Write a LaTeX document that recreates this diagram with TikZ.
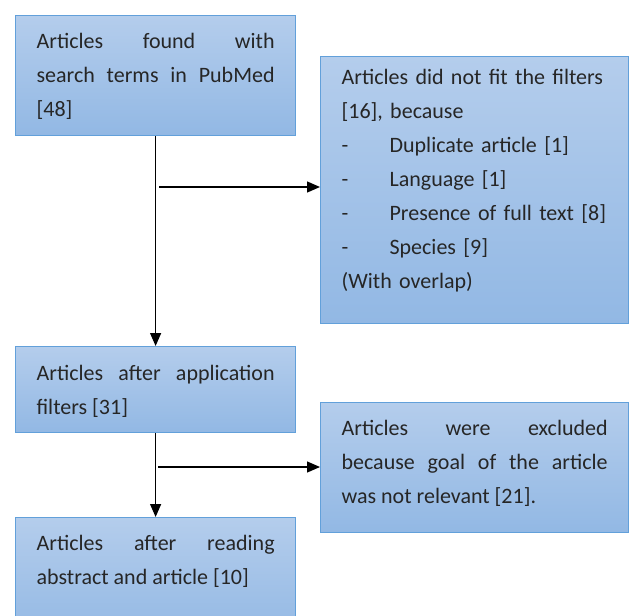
\documentclass[tikz,border=0pt]{standalone}
\usepackage{fontspec}
\setmainfont{Carlito}
\usetikzlibrary{arrows.meta}

\definecolor{boxtop}{RGB}{180,205,236}
\definecolor{boxbottom}{RGB}{146,184,228}
\definecolor{boxline}{RGB}{98,160,218}
\newcommand{\boxfont}{\fontsize{22}{34}\selectfont\hyphenpenalty=10000\relax}

\tikzset{
  flowbox/.style={draw=boxline, line width=1.2pt, top color=boxtop, bottom color=boxbottom,
    anchor=north west, inner xsep=21pt, inner ysep=0pt, text height=33pt,
    align=justify, font=\boxfont, text=black!85},
  flow/.style={line width=1.3pt, black, -{Triangle[length=13pt,width=11pt]}}
}

\begin{document}
\begin{tikzpicture}[x=1pt, y=-1pt]
  \useasboundingbox (0,0) rectangle (635,616);
  \node [flowbox, text width=238pt, text depth=87pt] (found) at (15,15)
    {Articles found with\linebreak search terms in PubMed\linebreak{}[48]};
  \node [flowbox, text width=266pt, text height=28pt, text depth=239pt, align=left] (nofit) at (320,56)
    {Articles did not fit the filters\\{[16]}, because\\
     \makebox[48pt][l]{-}Duplicate article [1]\\
     \makebox[48pt][l]{-}Language [1]\\
     \makebox[48pt][l]{-}Presence of full text [8]\\
     \makebox[48pt][l]{-}Species [9]\\
     (With overlap)};
  \node [flowbox, text width=238pt, text height=34pt, text depth=52pt] (filtered) at (15,346)
    {Articles after application\linebreak filters [31]};
  \node [flowbox, text width=266pt, text depth=97pt] (excluded) at (320,402)
    {Articles were excluded\linebreak because goal of the article\linebreak was not relevant [21].};
  \node [flowbox, text width=238pt, text depth=90pt] (read) at (15,517)
    {Articles after reading\linebreak abstract and article [10]};

  \coordinate (s1) at (159,187);
  \coordinate (s2) at (158,467);
  \draw [flow] (found) -- (filtered);
  \draw [flow] (s1) -- (s1 -| nofit.west);
  \draw [flow] (filtered) -- (read);
  \draw [flow] (s2) -- (s2 -| excluded.west);
\end{tikzpicture}
\end{document}
